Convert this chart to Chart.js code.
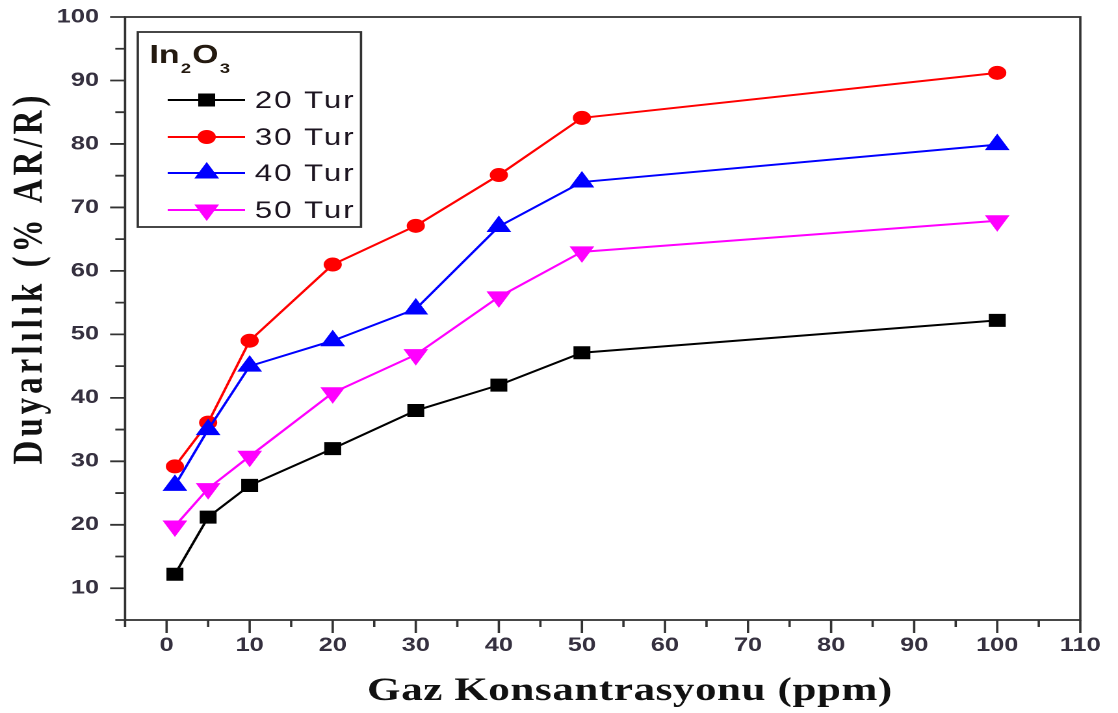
<!DOCTYPE html>
<html lang="tr">
<head>
<meta charset="UTF-8">
<title>In2O3 Duyarlılık</title>
<script src="https://cdn.jsdelivr.net/npm/chart.js"></script>
<style>
  body { margin: 0; background: #fff; }
  /* drawn on an 860px-wide canvas and stretched to the page width */
  #chart { display: block; width: 1118px; height: 713px; }
</style>
</head>
<body>
<canvas id="chart" width="860" height="713"></canvas>
<script>
// gas concentration (ppm)
const concentrations = [1, 5, 10, 20, 30, 40, 50, 100];

// sensitivity (% dR/R) per coating cycle count
const tur20 = [12.2, 21.2, 26.2, 32, 38, 42, 47.1, 52.2];
const tur30 = [29.2, 36.1, 49, 61, 67.1, 75.1, 84.1, 91.2];
const tur40 = [26.2, 35, 45, 49, 54, 67, 74, 79.9];
const tur50 = [19.8, 25.7, 30.8, 40.8, 46.8, 55.9, 63, 67.9];

const seriesLabels = ['20 Tur', '30 Tur', '40 Tur', '50 Tur'];

const xTickValues = [0, 10, 20, 30, 40, 50, 60, 70, 80, 90, 100, 110];
const yTickValues = [10, 20, 30, 40, 50, 60, 70, 80, 90, 100];

const tickFont = { family: '"Liberation Sans", Arial, sans-serif', size: 19.5, weight: 'bold' };
const tickColor = '#35303f';

function series(label, values, color, style, radius, rotation, order) {
    return {
        label: label,
        data: concentrations.map((c, i) => ({ x: c, y: values[i] })),
        borderColor: color,
        backgroundColor: color,
        borderWidth: 2,
        pointStyle: style,
        pointRadius: radius,
        pointRotation: rotation,
        pointBackgroundColor: color,
        pointBorderColor: color,
        pointBorderWidth: 1,
        tension: 0,
        order: order
    };
}

// box round the plot area plus major/minor tick marks
const frame = {
    id: 'frame',
    afterDraw(chart) {
        const { ctx, chartArea: a, scales: { x, y } } = chart;
        ctx.save();
        ctx.strokeStyle = '#333';
        ctx.lineWidth = 1.8;
        ctx.strokeRect(a.left, a.top, a.right - a.left, a.bottom - a.top);
        ctx.beginPath();
        for (let v = -5; v <= 110; v += 5) {
            const px = x.getPixelForValue(v);
            ctx.moveTo(px, a.bottom);
            ctx.lineTo(px, a.bottom + (v % 10 === 0 ? 13 : 7));
        }
        for (let v = 5; v <= 100; v += 5) {
            const py = y.getPixelForValue(v);
            ctx.moveTo(a.left, py);
            ctx.lineTo(a.left - (v % 10 === 0 ? 11.5 : 7.5), py);
        }
        ctx.stroke();
        ctx.restore();
    }
};

// axis titles in spaced serif type
const axisTitles = {
    id: 'axisTitles',
    afterDraw(chart) {
        const ctx = chart.ctx;
        ctx.save();
        ctx.fillStyle = '#111';
        ctx.font = 'bold 33px "Liberation Serif", "Times New Roman", serif';
        ctx.textAlign = 'center';
        ctx.textBaseline = 'alphabetic';
        ctx.letterSpacing = '0.5px';
        ctx.fillText('Gaz Konsantrasyonu (ppm)', 484.6, 700);
        ctx.translate(32, 278);
        ctx.rotate(-Math.PI / 2);
        ctx.letterSpacing = '4px';
        ctx.fillText('Duyarlılık (% AR/R)', 0, 0);
        ctx.restore();
    }
};

// legend box with line + marker samples
const legendBox = {
    id: 'legendBox',
    afterDraw(chart) {
        const ctx = chart.ctx;
        ctx.save();
        ctx.fillStyle = '#fff';
        ctx.fillRect(106, 32, 171.7, 195);
        ctx.strokeStyle = '#333';
        ctx.lineWidth = 1.8;
        ctx.strokeRect(106, 32, 171.7, 195);

        // In2O3 title with subscripts
        ctx.fillStyle = '#241a10';
        ctx.textBaseline = 'alphabetic';
        const big = 'bold 26px "Liberation Sans", Arial, sans-serif';
        const small = 'bold 14px "Liberation Sans", Arial, sans-serif';
        let tx = 115;
        [['In', big, 63], ['2', small, 73], ['O', big, 63], ['3', small, 73]].forEach(([t, f, by]) => {
            ctx.font = f;
            ctx.fillText(t, tx, by);
            tx += ctx.measureText(t).width + 1;
        });

        const rows = [100, 137, 173, 210];
        chart.data.datasets.forEach((ds, i) => {
            const cy = rows[i];
            ctx.strokeStyle = ds.borderColor;
            ctx.fillStyle = ds.borderColor;
            ctx.lineWidth = 2;
            ctx.beginPath();
            ctx.moveTo(129, cy);
            ctx.lineTo(188.5, cy);
            ctx.stroke();
            ctx.lineWidth = 1;
            Chart.helpers.drawPoint(ctx, {
                pointStyle: ds.pointStyle,
                radius: ds.pointRadius,
                rotation: ds.pointRotation,
                borderWidth: 1
            }, 159, cy);
            ctx.fillStyle = '#1c1420';
            ctx.font = '24px "Liberation Sans", Arial, sans-serif';
            ctx.letterSpacing = '1.5px';
            ctx.textBaseline = 'middle';
            ctx.fillText(ds.label, 196, cy + 1.5);
            ctx.letterSpacing = '0px';
        });
        ctx.restore();
    }
};

const chart = new Chart(document.getElementById('chart'), {
    type: 'line',
    data: {
        datasets: [
            series(seriesLabels[0], tur20, '#000000', 'rect', 8.5, 0, 4),
            series(seriesLabels[1], tur30, '#ff0000', 'circle', 6.5, 0, 3),
            series(seriesLabels[2], tur40, '#0000ff', 'triangle', 10, 0, 2),
            series(seriesLabels[3], tur50, '#ff00ff', 'triangle', 10, 180, 1)
        ]
    },
    options: {
        responsive: false,
        devicePixelRatio: 2,
        animation: false,
        layout: { padding: { top: 17, right: 29, left: 0, bottom: 0 } },
        plugins: {
            legend: { display: false },
            tooltip: { enabled: false }
        },
        scales: {
            x: {
                type: 'linear',
                min: -5,
                max: 110,
                grid: { display: false, drawTicks: false },
                border: { display: false },
                ticks: { font: tickFont, color: tickColor, padding: 14, maxRotation: 0, autoSkip: false },
                afterBuildTicks: s => { s.ticks = xTickValues.map(v => ({ value: v })); },
                afterFit: s => { s.height = 93; s.paddingLeft = 0; s.paddingRight = 0; }
            },
            y: {
                type: 'linear',
                min: 5,
                max: 100,
                grid: { display: false, drawTicks: false },
                border: { display: false },
                ticks: { font: tickFont, color: tickColor, padding: 20, autoSkip: false },
                afterBuildTicks: s => { s.ticks = yTickValues.map(v => ({ value: v })); },
                afterFit: s => { s.width = 96.2; s.paddingTop = 0; s.paddingBottom = 0; }
            }
        }
    },
    plugins: [frame, legendBox, axisTitles]
});

const cv = document.getElementById('chart');
cv.style.width = '1118px';
cv.style.height = '713px';
</script>
</body>
</html>
